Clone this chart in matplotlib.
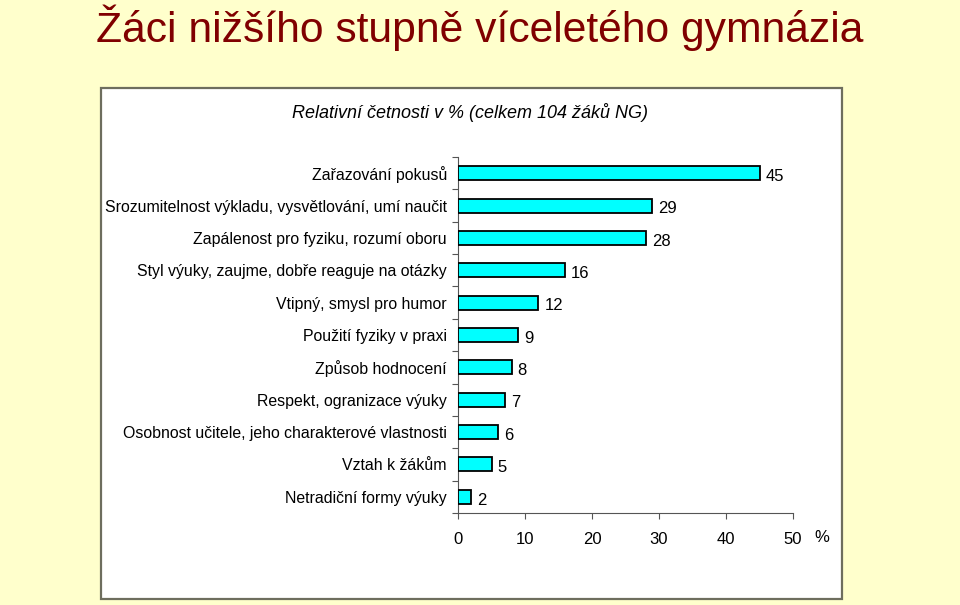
import matplotlib
matplotlib.use("Agg")
import matplotlib.pyplot as plt
from matplotlib.patches import Rectangle
from matplotlib.ticker import FixedLocator

categories = [
    "Zařazování pokusů",
    "Srozumitelnost výkladu, vysvětlování, umí naučit",
    "Zapálenost pro fyziku, rozumí oboru",
    "Styl výuky, zaujme, dobře reaguje na otázky",
    "Vtipný, smysl pro humor",
    "Použití fyziky v praxi",
    "Způsob hodnocení",
    "Respekt, ogranizace výuky",
    "Osobnost učitele, jeho charakterové vlastnosti",
    "Vztah k žákům",
    "Netradiční formy výuky",
]
values = [45, 29, 28, 16, 12, 9, 8, 7, 6, 5, 2]
xticks = [0, 10, 20, 30, 40, 50]

title = "Žáci nižšího stupně víceletého gymnázia"
subtitle = "Relativní četnosti v % (celkem 104 žáků NG)"

plt.rcParams['font.family'] = ['Liberation Sans', 'DejaVu Sans']

fig = plt.figure(figsize=(9.6, 6.05), dpi=100)
fig.patch.set_facecolor('#FFFFCC')

# white panel
panel = Rectangle((101/960, 1-599/605), (842-101)/960, (599-88)/605,
                  transform=fig.transFigure, facecolor='white',
                  edgecolor='#6E6E5E', linewidth=1.6, zorder=-10)
fig.patches.append(panel)

fig.text(480/960, 1-28/605, title, ha='center', va='center',
         fontsize=30.7, color='#800000')
fig.text(470/960, 1-113/605, subtitle, ha='center', va='center',
         fontsize=13, style='italic', color='black')

ax = fig.add_axes([458/960, 1-513/605, (793-458)/960, (513-157)/605])
ax.set_facecolor('none')
ax.set_zorder(5)
n = len(categories)
pos = list(range(n))
ax.barh(pos, values, height=0.43, color='#00FFFF', edgecolor='black',
        linewidth=1.3, zorder=3)
ax.set_ylim(n-0.5, -0.5)
ax.set_xlim(0, 50)
ax.set_yticks(pos)
ax.set_yticklabels(categories, fontsize=11.4)
ax.tick_params(axis='y', length=0, pad=8)
ax.yaxis.set_minor_locator(FixedLocator([i-0.5 for i in range(n+1)]))
ax.tick_params(axis='y', which='minor', length=4, color='#555555', width=0.8)
ax.set_xticks(xticks)
ax.set_xticklabels([str(t) for t in xticks], fontsize=12)
ax.tick_params(axis='x', length=4, color='#555555', width=0.8, pad=10)
for s in ['top', 'right']:
    ax.spines[s].set_visible(False)
for s in ['left', 'bottom']:
    ax.spines[s].set_color('#555555')
    ax.spines[s].set_linewidth(0.8)

for p, v in zip(pos, values):
    ax.text(v + 0.9, p + 0.1, str(v), ha='left', va='center', fontsize=12)

fig.text(822/960, 1-538/605, "%", ha='center', va='center', fontsize=12)

fig.savefig("out.png", dpi=100, facecolor=fig.get_facecolor())
